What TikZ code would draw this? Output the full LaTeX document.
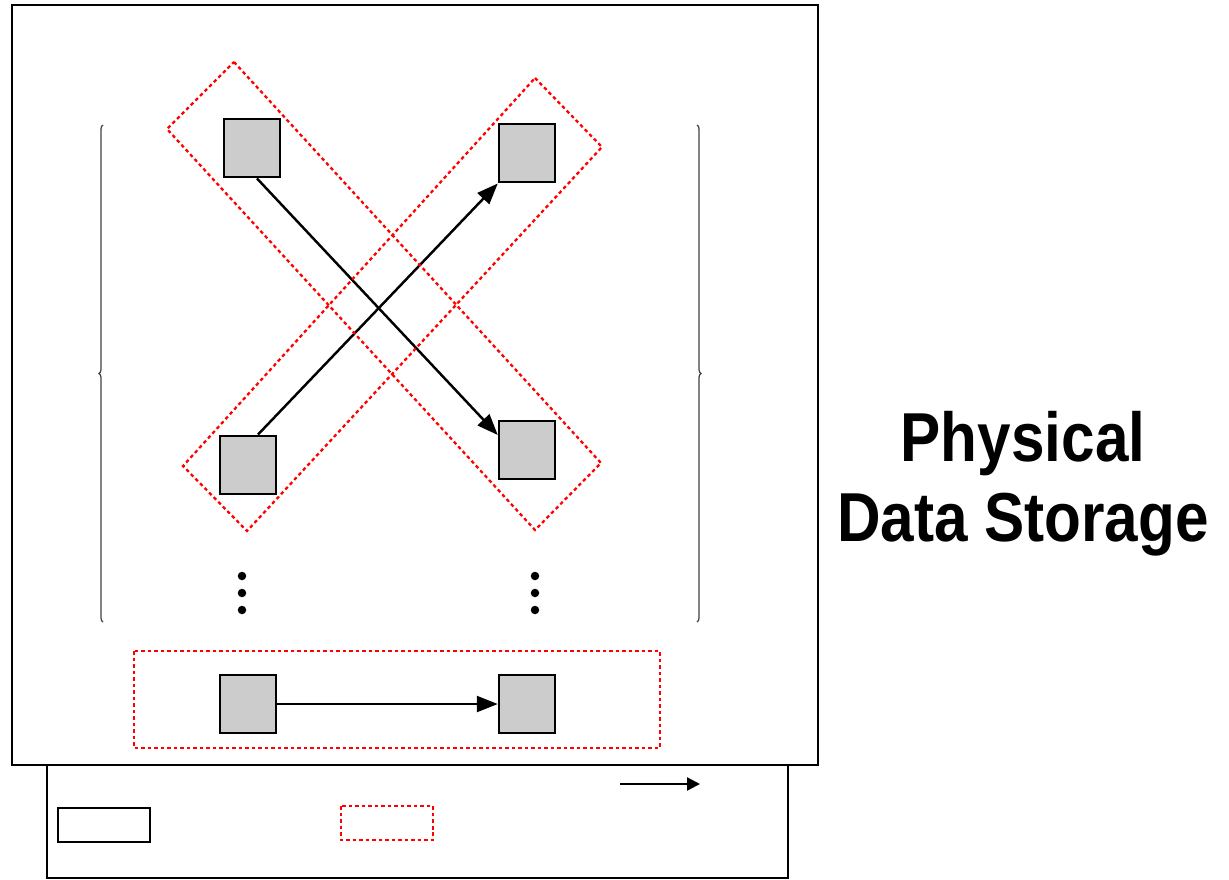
\documentclass[tikz,border=0pt]{standalone}
\usepackage{fontspec}
\setmainfont{Liberation Sans}
\usetikzlibrary{arrows.meta,decorations.pathreplacing}

\begin{document}
\begin{tikzpicture}[x=0.02cm,y=-0.02cm,>={Triangle[length=4.2mm,width=3.2mm]}]

  \tikzstyle{block}=[rectangle,draw=black,line width=1.4pt,fill=black!20,minimum width=1.12cm,minimum height=1.17cm,inner sep=0pt]
  \tikzstyle{group}=[draw=red,line width=1.3pt,dash pattern=on 2pt off 1.7pt]
  \tikzstyle{frame}=[draw=black,line width=1.2pt]
  \tikzstyle{link}=[->,line width=1.4pt]
  \tikzstyle{dots}=[circle,fill=black,inner sep=0pt,minimum size=1.7mm]
  \tikzstyle{side brace}=[draw=black!75,line width=0.7pt,decorate,decoration={brace,amplitude=0.08cm}]

  \useasboundingbox (0,0) rectangle (1229,879);

  \draw[frame] (12,5) rectangle (818,765);
  \draw[frame] (47,765) rectangle (788,878);

  \path (252,148) node[block] (a1) {}
        (527,153) node[block] (b1) {}
        (248,465) node[block] (a2) {}
        (527,450) node[block] (b2) {}
        (248,704) node[block] (a3) {}
        (527,704) node[block] (b3) {};

  \draw[link] ([xshift=0.1cm]a1.south) -- ([yshift=0.3cm]b2.west);
  \draw[link] ([xshift=0.2cm]a2.north) -- (b1.south west);
  \draw[link] (a3) -- (b3);

  \draw[group] (234,62) -- (601,463) -- (535,530) -- (167,129) -- cycle;
  \draw[group] (535,78) -- (602,147) -- (247,531) -- (183,466) -- cycle;
  \draw[group] (134,651) rectangle (660,748);

  \foreach \y [count=\i] in {576,593,610} {
    \node[dots] (da\i) at (242,\y) {};
    \node[dots] (db\i) at (535,\y) {};
  }

  \draw[side brace] (103,622) -- (103,125);
  \draw[side brace] (697,125) -- (697,622);

  \draw[frame] (58,808) rectangle (150,842);
  \draw[group] (341,806) rectangle (433,840);
  \coordinate (k1) at (620,784);
  \coordinate (k2) at (700,784);
  \draw[->,line width=1.3pt,>={Triangle[length=2.6mm,width=2.6mm]}] (k1) -- (k2);

  \node[align=center,yscale=1.15,transform shape,font=\fontsize{34.3}{39.5}\selectfont\bfseries] (title) at (1023,484) {Physical\\Data Storage};

\end{tikzpicture}
\end{document}
